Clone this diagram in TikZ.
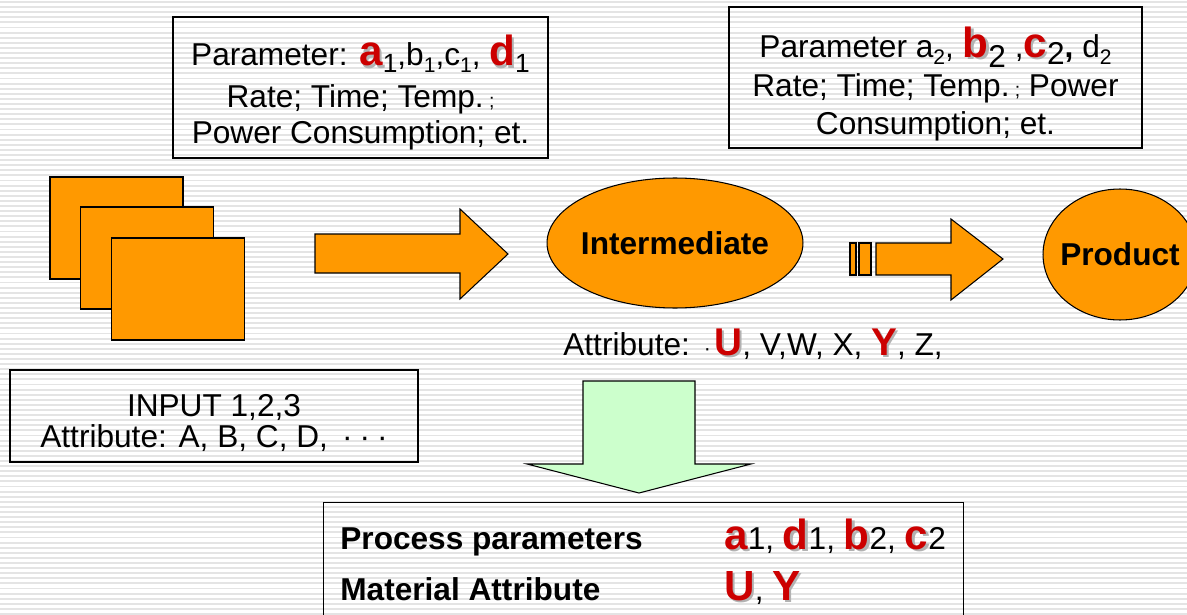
\documentclass[tikz,border=0pt]{standalone}
\usepackage{fontspec}
\setmainfont{Liberation Sans}
\usetikzlibrary{shapes.geometric}
\definecolor{flowfill}{HTML}{FF9900}
\definecolor{downfill}{HTML}{CCFFCC}
\definecolor{markred}{HTML}{CC0000}
\definecolor{stripegray}{HTML}{E4E4E4}
\newcommand\redlt[2][24]{{\fontsize{#1}{#1}\selectfont\bfseries\makebox[0pt][l]{\kern1.3pt\raisebox{-1.3pt}{\textcolor{black!30}{#2}}}\textcolor{markred}{#2}}}
\newcommand\sub[2][12]{\raisebox{-4pt}{\fontsize{#1}{#1}\selectfont #2}}
\newcommand\smsemi{{\fontsize{11}{11}\selectfont;}}
\newcommand\topgap[1]{\rule{0pt}{#1}}
\tikzset{
  parbox/.style={draw, line width=0.8pt, align=center, inner sep=0pt, font=\fontsize{18}{20.5}\selectfont},
  page/.style={draw, fill=flowfill, line width=0.9pt, inner sep=0pt, minimum width=2.66cm, minimum height=2.04cm},
  blob/.style={ellipse, draw, fill=flowfill, line width=0.6pt, inner xsep=-4pt, inner ysep=0pt, font=\fontsize{18}{18}\selectfont\bfseries},
  flowarrow/.style={draw, fill=flowfill, line width=0.6pt, line join=miter},
  plain/.style={inner sep=0pt, anchor=base west, font=\fontsize{18}{18}\selectfont},
}
\begin{document}
\begin{tikzpicture}[x=0.02cm, y=-0.02cm]
\useasboundingbox (0,0) rectangle (1187,615);
% background stripes
\foreach \k in {0,...,120}
  \draw[stripegray, line width=1.1pt] (0,\k*5.1+2) -- (1187,\k*5.1+2);

% parameter boxes
\node[parbox, minimum width=7.5cm, minimum height=2.82cm] (par1) at (360.5,87.5)
  {\topgap{23pt}Parameter: \redlt{a}\sub[15]{1},b\sub{1},c\sub{1}, \redlt{d}\sub[15]{1}\\[3pt]
   Rate; Time; Temp.\,\smsemi\\ Power Consumption; et.};
\node[parbox, minimum width=8.26cm, minimum height=2.82cm, font=\fontsize{18}{21.5}\selectfont] (par2) at (935.5,77.5)
  {\topgap{24.5pt}Parameter a\sub{2}, \redlt{b}\raisebox{-6pt}{\fontsize{18}{18}\selectfont 2} ,\redlt{c}\sub[18]{2}\textbf{,} d\sub{2}\\[1pt]
   Rate; Time; Temp.\,\smsemi\ Power\\ Consumption; et.};

% input pages
\node[page] (in1) at (116.5,228) {};
\node[page] (in2) at (147,258) {};
\node[page] (in3) at (178,289) {};

% flow arrows
\draw[flowarrow] (315,234) -- (460,234) -- (460,209) -- (508,254) -- (460,299) -- (460,273) -- (315,273) -- cycle;
\draw[flowarrow] (850,243) rectangle (856,275);
\draw[flowarrow] (859,243) rectangle (871,275);
\draw[flowarrow] (876,243) -- (951,243) -- (951,219) -- (1003,259) -- (951,300) -- (951,275) -- (876,275) -- cycle;

% states
\node[blob, minimum width=5.12cm, minimum height=2.6cm] (inter) at (675,243) {Intermediate};
\node[blob, minimum width=3.08cm, minimum height=2.62cm] (prod) at (1120,254.5) {Product};

\node[plain] (attr) at (563,355) {Attribute:\hspace{8pt}{\fontsize{12}{12}\selectfont·}\hspace{2pt}\redlt[22]{U}, V,W, X, \redlt[22]{Y}, Z,};

% input box
\node[parbox, minimum width=8.16cm, minimum height=1.84cm, font=\fontsize{18}{17.6}\selectfont] (inp) at (214,416)
  {\topgap{21pt}INPUT 1,2,3\\ Attribute: A, B, C, D, \,·\kern4pt·\kern4pt·};

% down arrow
\draw[flowarrow, fill=downfill] (583,381) -- (695,381) -- (695,464) -- (751,464) -- (639,493) -- (527,464) -- (583,464) -- cycle;

% result box
\node[draw, line width=0.8pt, inner sep=0pt, anchor=north west, minimum width=12.8cm, minimum height=2.6cm] (res) at (323,502) {};
\node[plain, font=\fontsize{18}{18}\selectfont\bfseries] (pp) at (340,549) {Process parameters};
\node[plain] (ppval) at (724,549) {\redlt{a}1, \redlt{d}1, \redlt{b}2, \redlt{c}2};
\node[plain, font=\fontsize{18}{18}\selectfont\bfseries] (ma) at (340,600) {Material Attribute};
\node[plain] (maval) at (724,600) {\redlt{U}, \redlt{Y}};
\end{tikzpicture}
\end{document}
